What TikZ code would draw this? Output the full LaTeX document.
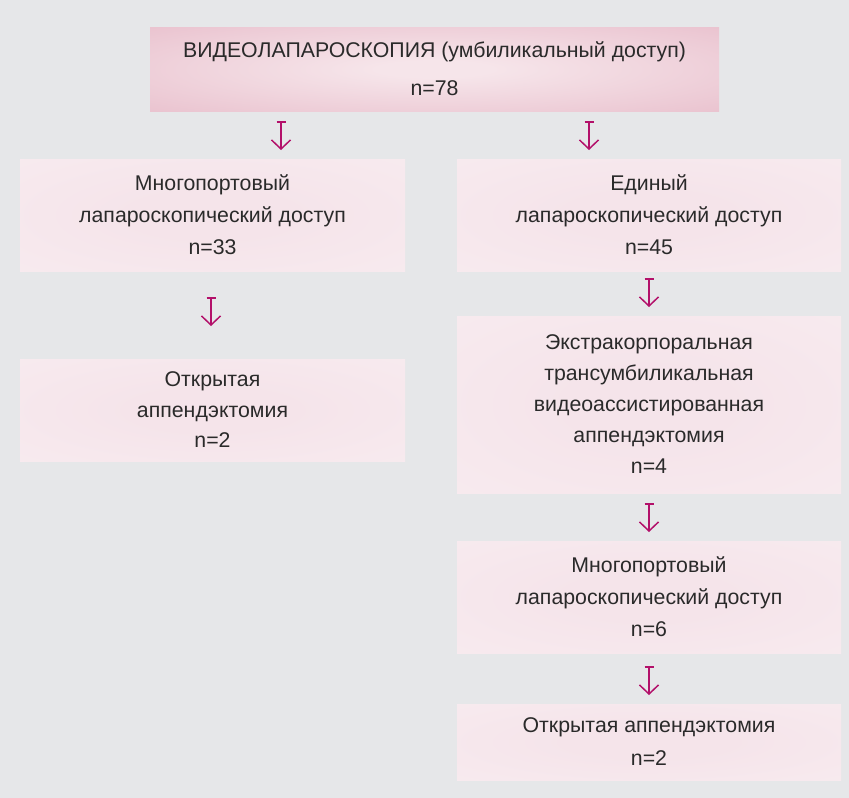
\documentclass[tikz,border=0pt]{standalone}
\usepackage{fontspec}
\setmainfont{Liberation Sans}
\usetikzlibrary{arrows.meta}
\definecolor{bg}{HTML}{E6E7E9}
\definecolor{txt}{HTML}{2A2A2A}
\definecolor{arr}{HTML}{B3106A}
\definecolor{topin}{HTML}{F6E5EA}
\definecolor{topout}{HTML}{E2ADBE}
\definecolor{boxin}{HTML}{F5E4EA}
\definecolor{boxout}{HTML}{FAF0F3}
\pgfdeclareradialshading{topshade}{\pgfpoint{0bp}{0bp}}{color(0bp)=(topin); color(5bp)=(topin); color(56bp)=(topout); color(80bp)=(topout)}
\pgfdeclareradialshading{boxshade}{\pgfpoint{0bp}{0bp}}{color(0bp)=(boxin); color(10bp)=(boxin); color(60bp)=(boxout); color(80bp)=(boxout)}
\tikzset{
  topbox/.style={rectangle, inner sep=0pt, align=center, text=txt,
    shading=topshade,
    font=\fontsize{21.3}{38}\selectfont},
  flowbox/.style={rectangle, inner sep=0pt, align=center, text=txt,
    shading=boxshade,
    font=\fontsize{21.3}{32}\selectfont},
  flowarrow/.style={draw=arr, line width=1.5pt,
    {Bar[width=9pt,line width=1.5pt]}-{Straight Barb[width=19pt,length=9pt,line width=1.5pt]}}
}
\begin{document}
\begin{tikzpicture}[x=1pt,y=-1pt]
\fill[bg] (0,0) rectangle (849,798);
\useasboundingbox (0,0) rectangle (849,798);

\node[topbox, minimum width=569pt, minimum height=84pt] (top) at (434.5,69)
  {ВИДЕОЛАПАРОСКОПИЯ (умбиликальный доступ)\\n=78};

\node[flowbox, minimum width=385pt, minimum height=112pt] (l1) at (212.5,215)
  {Многопортовый\\лапароскопический доступ\\n=33};
\node[flowbox, minimum width=385pt, minimum height=102pt,
  font=\fontsize{21.3}{30.5}\selectfont] (l2) at (212.5,410)
  {Открытая\\аппендэктомия\\n=2};

\node[flowbox, minimum width=384pt, minimum height=112pt] (r1) at (649,215)
  {Единый\\лапароскопический доступ\\n=45};
\node[flowbox, minimum width=384pt, minimum height=177pt,
  font=\fontsize{21.3}{31}\selectfont] (r2) at (649,404.5)
  {Экстракорпоральная\\трансумбиликальная\\видеоассистированная\\аппендэктомия\\n=4};
\node[flowbox, minimum width=384pt, minimum height=112pt] (r3) at (649,597)
  {Многопортовый\\лапароскопический доступ\\n=6};
\node[flowbox, minimum width=384pt, minimum height=76pt,
  font=\fontsize{21.3}{33}\selectfont] (r4) at (649,742)
  {Открытая аппендэктомия\\n=2};

% arrow end points
\coordinate (a1s) at (281,121); \coordinate (a1e) at (281,150);
\coordinate (a2s) at (589,121); \coordinate (a2e) at (589,150);
\coordinate (a3s) at (211,297); \coordinate (a3e) at (211,326);
\coordinate (a4s) at (649,278); \coordinate (a4e) at (649,307);
\coordinate (a5s) at (649,503); \coordinate (a5e) at (649,532);
\coordinate (a6s) at (649,666); \coordinate (a6e) at (649,695);

\draw[flowarrow] (a1s) -- (a1e);
\draw[flowarrow] (a2s) -- (a2e);
\draw[flowarrow] (a3s) -- (a3e);
\draw[flowarrow] (a4s) -- (a4e);
\draw[flowarrow] (a5s) -- (a5e);
\draw[flowarrow] (a6s) -- (a6e);
\end{tikzpicture}
\end{document}
